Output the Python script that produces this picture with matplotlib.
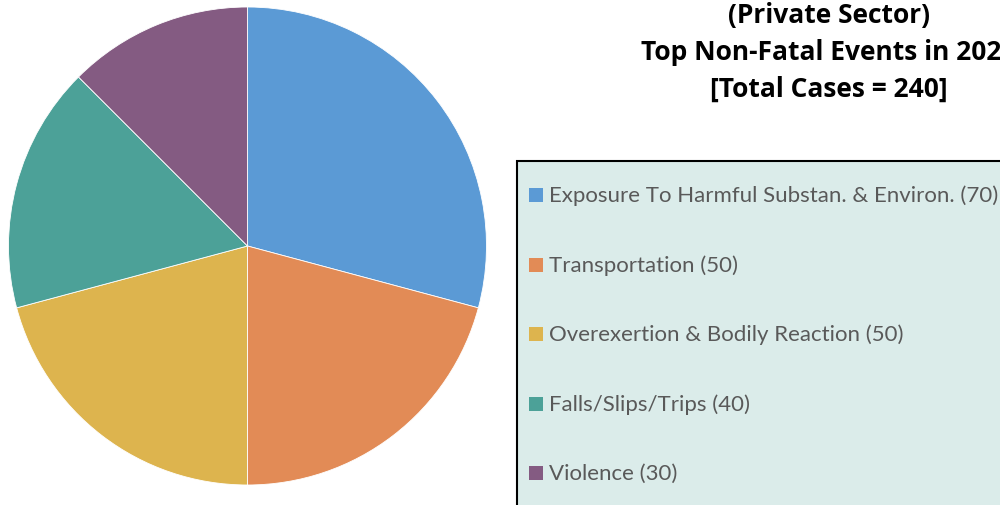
import matplotlib.pyplot as plt
import matplotlib.patches as patches

# data
categories = ['Exposure To Harmful Substan. & Environ.', 'Transportation',
              'Overexertion & Bodily Reaction', 'Falls/Slips/Trips', 'Violence']
cases = [70, 50, 50, 40, 30]
colors = ['#5B9AD5', '#E28B56', '#DDB44E', '#4CA198', '#845B82']
title_lines = ['(Private Sector)', 'Top Non-Fatal Events in 2022',
               '[Total Cases = 240]']

W, H = 1000, 506
fig = plt.figure(figsize=(10, 5.06), dpi=100, facecolor='white')
ax = fig.add_axes([0, 0, 1, 1])

# pie, clockwise from 12 o'clock
ax.pie(cases, colors=colors, startangle=90, counterclock=False,
       center=(247.5, H - 247), radius=239,
       wedgeprops=dict(edgecolor='white', linewidth=0.6))

ax.set_xlim(0, W)
ax.set_ylim(0, H)
ax.set_aspect('equal', adjustable='box')
ax.axis('off')

# title (runs past right edge like the original)
for i, line in enumerate(title_lines):
    ax.text(829, H - 15 - i * 37, line, fontsize=19, fontweight='bold',
            family='Open Sans', color='black', ha='center', va='center')

# legend box, runs off the figure on right and bottom
box = patches.Rectangle((517, -20), 600, H - 162 + 20, facecolor='#DBECEA',
                        edgecolor='black', linewidth=1.5)
ax.add_patch(box)

for i, (name, v, c) in enumerate(zip(categories, cases, colors)):
    y = H - 196 - i * 69.5
    ax.add_patch(patches.Rectangle((529, y - 7), 14, 14, facecolor=c,
                                   edgecolor='none'))
    ax.text(549, y, f'{name} ({v})', fontsize=16, family='Lato',
            color='#595959', ha='left', va='center')

plt.savefig('out.png', dpi=100, facecolor='white')
